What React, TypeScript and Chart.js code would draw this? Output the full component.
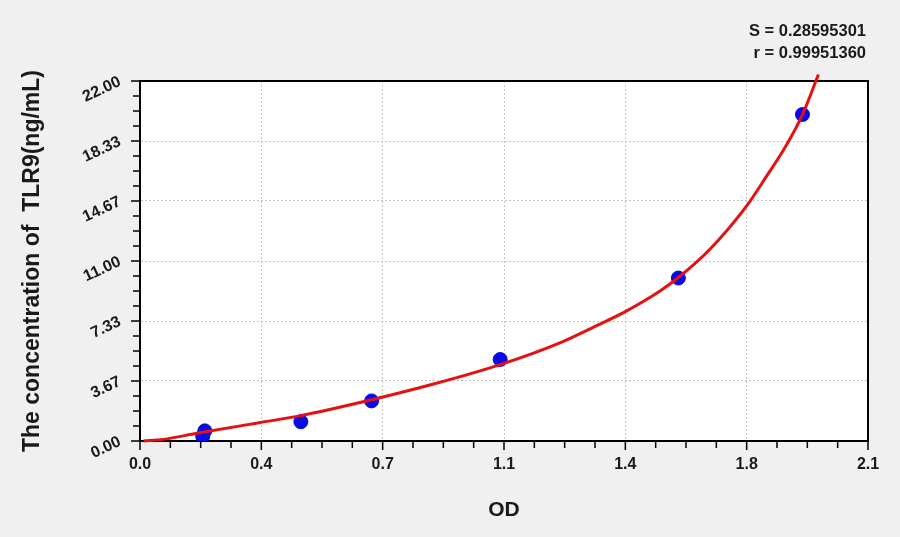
import React, { useEffect, useRef } from "react";
import { Chart, registerables } from "chart.js";

Chart.register(...registerables);

// standards: OD vs concentration
const odValues = [0.181, 0.187, 0.464, 0.668, 1.039, 1.553, 1.911];
const concentrations = [0.28, 0.62, 1.18, 2.45, 4.98, 9.96, 19.95];

// fitted curve
const curveOd = [0.01, 0.067, 0.164, 0.344, 0.464, 0.668, 0.836, 1.039, 1.22, 1.307, 1.4, 1.5, 1.553, 1.644, 1.75, 1.808, 1.861, 1.911, 1.957];
const curveConc = [0.0, 0.1, 0.47, 1.12, 1.55, 2.52, 3.42, 4.67, 6.08, 6.95, 7.91, 9.17, 9.99, 11.72, 14.37, 16.2, 17.95, 19.95, 22.4];

const xTicks = [0, 0.35, 0.7, 1.05, 1.4, 1.75, 2.1];
const xTickLabels = ["0.0", "0.4", "0.7", "1.1", "1.4", "1.8", "2.1"];
const yTicks = [0, 3.667, 7.333, 11, 14.667, 18.333, 22];
const yTickLabels = ["0.00", "3.67", "7.33", "11.00", "14.67", "18.33", "22.00"];

const statLines = ["S = 0.28595301", "r = 0.99951360"];

const FONT = "'Liberation Sans', Arial, sans-serif";

const framePlugin = {
  id: "frame",
  beforeDraw(chart: any) {
    const { ctx, chartArea: a } = chart;
    ctx.save();
    ctx.fillStyle = "#f0f0f0";
    ctx.fillRect(0, 0, chart.width, chart.height);
    ctx.fillStyle = "#ffffff";
    ctx.fillRect(a.left, a.top, a.right - a.left, a.bottom - a.top);
    ctx.restore();
  },
  beforeDatasetsDraw(chart: any) {
    const { ctx, chartArea: a } = chart;
    ctx.save();
    ctx.strokeStyle = "#000";
    ctx.lineWidth = 2;
    ctx.beginPath();
    ctx.moveTo(a.left, a.top);
    ctx.lineTo(a.right, a.top);
    ctx.lineTo(a.right, a.bottom);
    ctx.stroke();
    ctx.restore();
  },
  afterDraw(chart: any) {
    const { ctx, chartArea: a, scales } = chart;
    ctx.save();
    ctx.strokeStyle = "#000";
    ctx.lineWidth = 1.5;
    const drawTicks = (scale: any, horizontal: boolean) => {
      const vals = scale.ticks.map((t: any) => t.value);
      for (let i = 0; i < vals.length; i++) {
        const marks: [number, number][] = [[vals[i], 9]];
        if (i < vals.length - 1) {
          const step = (vals[i + 1] - vals[i]) / 4;
          for (let k = 1; k < 4; k++) marks.push([vals[i] + step * k, 7]);
        }
        for (const [v, len] of marks) {
          const p = scale.getPixelForValue(v);
          ctx.beginPath();
          if (horizontal) {
            ctx.moveTo(p, a.bottom);
            ctx.lineTo(p, a.bottom + len);
          } else {
            ctx.moveTo(a.left - len, p);
            ctx.lineTo(a.left, p);
          }
          ctx.stroke();
        }
      }
    };
    drawTicks(scales.x, true);
    drawTicks(scales.y, false);

    ctx.fillStyle = "#1a1a1a";
    ctx.font = `bold 16.5px ${FONT}`;
    ctx.textAlign = "right";
    ctx.textBaseline = "alphabetic";
    statLines.forEach((line, i) => {
      ctx.fillText(line, a.right - 2, 36 + i * 22);
    });
    ctx.restore();
  },
};

const App: React.FC = () => {
  const canvasRef = useRef<HTMLCanvasElement>(null);

  useEffect(() => {
    document.body.style.margin = "0";
    let chart: Chart | null = null;
    if (canvasRef.current) {
      chart = new Chart(canvasRef.current, {
        type: "scatter",
        data: {
          datasets: [
            {
              type: "line",
              label: "fit",
              data: curveOd.map((x, i) => ({ x, y: curveConc[i] })),
              borderColor: "rgb(230, 16, 16)",
              borderWidth: 3,
              pointRadius: 0,
              fill: false,
              cubicInterpolationMode: "monotone",
              clip: 8,
            } as any,
            {
              label: "standards",
              data: odValues.map((x, i) => ({ x, y: concentrations[i] })),
              backgroundColor: "rgb(10, 10, 230)",
              borderColor: "rgb(10, 10, 230)",
              pointRadius: 7,
              pointHoverRadius: 7,
            },
          ],
        },
        options: {
          responsive: false,
          animation: false,
          layout: { padding: { left: 0, top: 81, right: 32, bottom: 0 } },
          plugins: {
            legend: { display: false },
            tooltip: { enabled: false },
          },
          scales: {
            x: {
              type: "linear",
              min: 0,
              max: 2.1,
              afterBuildTicks: (scale: any) => {
                scale.ticks = xTicks.map((v) => ({ value: v }));
              },
              afterFit: (scale: any) => {
                scale.height = 96;
              },
              ticks: {
                callback: (_v: any, i: number) => xTickLabels[i],
                color: "#1a1a1a",
                font: { family: FONT, size: 16, weight: "bold" },
                padding: 14,
                maxRotation: 0,
                minRotation: 0,
              },
              grid: {
                color: "#c4c4c4",
                lineWidth: 1,
                drawTicks: false,
              },
              border: { color: "#000", width: 2, dash: [2, 2] },
              title: {
                display: true,
                text: "OD",
                color: "#1a1a1a",
                font: { family: FONT, size: 21, weight: "bold" },
                padding: { top: 0, bottom: 14 },
              },
            },
            y: {
              type: "linear",
              min: 0,
              max: 22,
              afterBuildTicks: (scale: any) => {
                scale.ticks = yTicks.map((v) => ({ value: v }));
              },
              afterFit: (scale: any) => {
                scale.width = 140;
              },
              ticks: {
                callback: (_v: any, i: number) => yTickLabels[i],
                color: "#1a1a1a",
                font: { family: FONT, size: 16, weight: "bold" },
                padding: 20,
                minRotation: 25,
                maxRotation: 25,
              },
              grid: {
                color: "#c4c4c4",
                lineWidth: 1,
                drawTicks: false,
              },
              border: { color: "#000", width: 2, dash: [2, 2] },
              title: {
                display: true,
                text: "The concentration of  TLR9(ng/mL)",
                color: "#1a1a1a",
                font: { family: FONT, size: 23, weight: "bold" },
                padding: { top: 19, bottom: 0 },
              },
            },
          },
        },
        plugins: [framePlugin],
      });
    }
    return () => {
      if (chart) chart.destroy();
    };
  }, []);

  return (
    <div style={{ width: 900, height: 537, background: "#f0f0f0" }}>
      <canvas ref={canvasRef} width={900} height={537} style={{ display: "block" }} />
    </div>
  );
};

export default App;
